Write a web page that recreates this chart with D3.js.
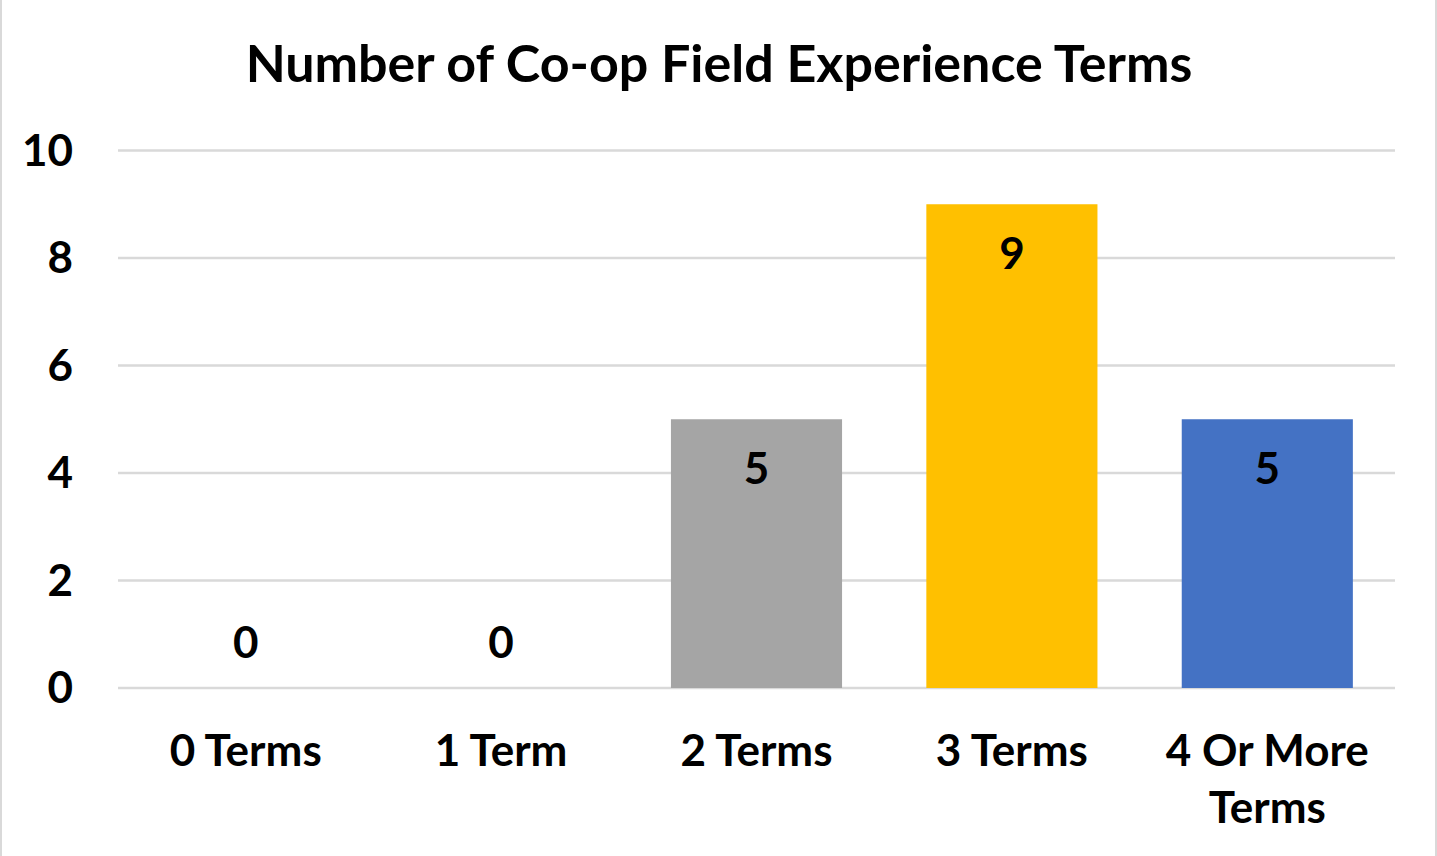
<!DOCTYPE html>
<html>
<head>
<meta charset="utf-8">
<script src="https://cdn.jsdelivr.net/npm/d3@7"></script>
<style>
  html, body { margin: 0; padding: 0; background: #fff; }
  svg { display: block; }
  text { font-family: Lato, "Open Sans", sans-serif; font-weight: 700; fill: #000; }
</style>
</head>
<body>
<svg id="chart" width="1437" height="856"></svg>
<script>
// Chart data
const title = "Number of Co-op Field Experience Terms";
const categories = ["0 Terms", "1 Term", "2 Terms", "3 Terms", "4 Or More|Terms"];
const values = [0, 0, 5, 9, 5];
const barColors = ["#a5a5a5", "#a5a5a5", "#a5a5a5", "#ffc000", "#4472c4"];
const yTicks = [0, 2, 4, 6, 8, 10];

const W = 1437, H = 856;
const plot = { left: 118, right: 1395, top: 150.5, bottom: 688 };

const svg = d3.select("#chart");

// Frame edges
svg.append("line").attr("x1", 1).attr("x2", 1).attr("y1", 0).attr("y2", H)
  .attr("stroke", "#d9d9d9").attr("stroke-width", 2);
svg.append("line").attr("x1", W - 1).attr("x2", W - 1).attr("y1", 0).attr("y2", H)
  .attr("stroke", "#d9d9d9").attr("stroke-width", 2);

const x = d3.scaleBand().domain(categories).range([plot.left, plot.right]).paddingInner(0.33).paddingOuter(0.165);
const y = d3.scaleLinear().domain([0, 10]).range([plot.bottom, plot.top]);

// Gridlines
svg.append("g").selectAll("line").data(yTicks).join("line")
  .attr("x1", plot.left).attr("x2", plot.right)
  .attr("y1", d => y(d)).attr("y2", d => y(d))
  .attr("stroke", "#d9d9d9").attr("stroke-width", 2.5);

// Y axis labels
const yAxis = d3.axisLeft(y).tickValues(yTicks).tickSize(0).tickPadding(0);
const yg = svg.append("g").attr("transform", "translate(73,0)").call(yAxis);
yg.select(".domain").remove();
yg.selectAll("text").attr("font-size", 44).attr("dy", "0.34em")
  .style("font-family", "Lato, 'Open Sans', sans-serif").style("font-weight", 700);

// Bars
const data = categories.map((c, i) => ({ c, v: values[i], color: barColors[i] }));
svg.append("g").selectAll("rect").data(data.filter(d => d.v > 0)).join("rect")
  .attr("x", d => x(d.c)).attr("width", x.bandwidth())
  .attr("y", d => y(d.v)).attr("height", d => y(0) - y(d.v))
  .attr("fill", d => d.color);

// Value labels
svg.append("g").selectAll("text").data(data).join("text")
  .attr("x", d => x(d.c) + x.bandwidth() / 2)
  .attr("y", d => d.v > 0 ? y(d.v) + 65 : y(0) - 30)
  .attr("text-anchor", "middle").attr("font-size", 44)
  .text(d => d.v);

// Category labels (| marks a line break)
const cg = svg.append("g").selectAll("text").data(data).join("text")
  .attr("x", d => x(d.c) + x.bandwidth() / 2)
  .attr("y", 766)
  .attr("text-anchor", "middle").attr("font-size", 44);
cg.selectAll("tspan").data(d => d.c.split("|").map(s => ({ s, cx: x(d.c) + x.bandwidth() / 2 })))
  .join("tspan")
  .attr("x", t => t.cx)
  .attr("dy", (t, i) => i === 0 ? 0 : 57)
  .text(t => t.s);

// Title
svg.append("text").attr("x", 719).attr("y", 81.5).attr("text-anchor", "middle")
  .attr("font-size", 52).text(title);
</script>
</body>
</html>
